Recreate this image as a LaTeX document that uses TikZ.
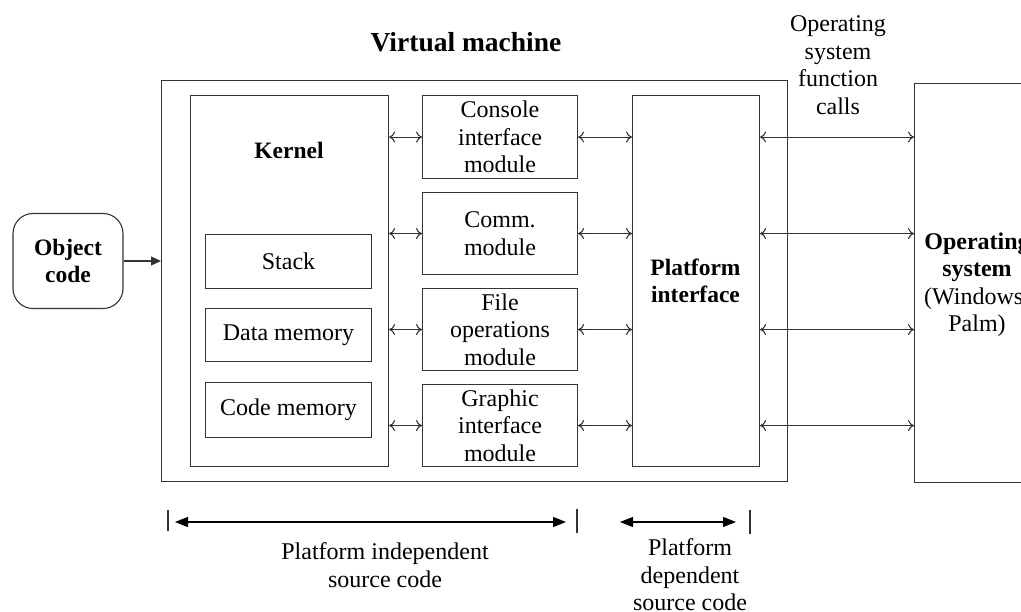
\documentclass[tikz,border=0pt]{standalone}
\usepackage{fontspec}
\setmainfont{Liberation Serif}
\usetikzlibrary{arrows.meta}
\begin{document}
\begin{tikzpicture}[x=1pt,y=-1pt,
  txt/.style={font=\fontsize{24}{27.5}\selectfont, align=center, text=black},
  bold/.style={font=\fontsize{23.5}{26.5}\selectfont\bfseries},
  box/.style={draw=black!80, line width=1.1pt, inner sep=0pt},
  link/.style={draw=black!80, line width=1.1pt, {To[length=6pt,width=11pt]}-{To[length=6pt,width=11pt]}},
  feed/.style={draw=black!80, line width=1.1pt, -{Triangle[length=10pt,width=9pt]}},
  span/.style={draw=black, line width=1.1pt, {Triangle[length=13pt,width=10pt]}-{Triangle[length=13pt,width=10pt]}},
  tick/.style={draw=black!80, line width=1.1pt}]
\useasboundingbox (0,0) rectangle (1021,611);
\clip (0,0) rectangle (1021,611);

% outer virtual machine frame and title
\node[box, minimum width=626pt, minimum height=401pt, anchor=north west] (vm) at (161,80) {};
\node[txt, font=\fontsize{27.5}{30}\selectfont\bfseries] (vmtitle) at (466,42) {Virtual machine};

% kernel with its memories
\node[box, minimum width=198pt, minimum height=371pt, anchor=north west] (kernel) at (190,95) {};
\node[txt, bold] (ktitle) at (289,150) {Kernel};
\node[box, minimum width=166pt, minimum height=54pt, anchor=north west] (stack) at (205,234) {};
\node[txt] (stacklbl) at (stack) {Stack};
\node[box, minimum width=166pt, minimum height=53pt, anchor=north west] (data) at (205,308) {};
\node[txt] (datalbl) at (data) {Data memory};
\node[box, minimum width=166pt, minimum height=55pt, anchor=north west] (code) at (205,382) {};
\node[txt] (codelbl) at (code) {Code memory};

% modules
\node[box, minimum width=155pt, minimum height=83pt, anchor=north west] (console) at (422,95) {};
\node[txt] (consolelbl) at (console) {Console\\interface\\module};
\node[box, minimum width=155pt, minimum height=82pt, anchor=north west] (comm) at (422,192) {};
\node[txt] (commlbl) at (comm) {Comm.\\module};
\node[box, minimum width=155pt, minimum height=82pt, anchor=north west] (file) at (422,288) {};
\node[txt] (filelbl) at (file) {File\\operations\\module};
\node[box, minimum width=155pt, minimum height=82pt, anchor=north west] (graphic) at (422,384) {};
\node[txt] (graphiclbl) at (graphic) {Graphic\\interface\\module};

% platform interface
\node[box, minimum width=127pt, minimum height=371pt, anchor=north west] (platform) at (632,95) {};
\node[txt, bold] (platformlbl) at (695.5,281) {Platform\\interface};

% operating system
\node[box, minimum width=130pt, minimum height=399pt, anchor=north west] (os) at (914,83) {};
\node[txt, anchor=north] (oslbl) at (977,229) {\textbf{Operating}\\\textbf{system}\\(Windows/\\Palm)};
\node[txt] (calls) at (838,65) {Operating\\system\\function\\calls};

% object code input
\node[box, rounded corners=20pt, minimum width=110pt, minimum height=95pt] (obj) at (68,261) {};
\node[txt, bold] (objlbl) at (obj) {Object\\code};
\draw[feed] (obj.east) -- (vm.west |- obj.east);

% kernel <-> modules <-> platform <-> OS
\foreach \m in {console,comm,file,graphic}{
  \draw[link] (kernel.east |- \m.west) -- (\m.west);
  \draw[link] (\m.east) -- (platform.west |- \m.east);
  \draw[link] (platform.east |- \m.east) -- (os.west |- \m.east);
}

% source code spans
\coordinate (t1a) at (168,510); \coordinate (t1b) at (168,531);
\coordinate (t2a) at (577,509); \coordinate (t2b) at (577,533);
\coordinate (t3a) at (750,510); \coordinate (t3b) at (750,534);
\draw[tick] (t1a) -- (t1b);
\draw[tick] (t2a) -- (t2b);
\draw[tick] (t3a) -- (t3b);
\coordinate (s1a) at (175,522); \coordinate (s1b) at (566,522);
\coordinate (s2a) at (620,522); \coordinate (s2b) at (736,522);
\draw[span] (s1a) -- (s1b);
\draw[span] (s2a) -- (s2b);
\node[txt] (indep) at (385,565) {Platform independent\\source code};
\node[txt] (dep) at (690,575) {Platform\\dependent\\source code};
\end{tikzpicture}
\end{document}
